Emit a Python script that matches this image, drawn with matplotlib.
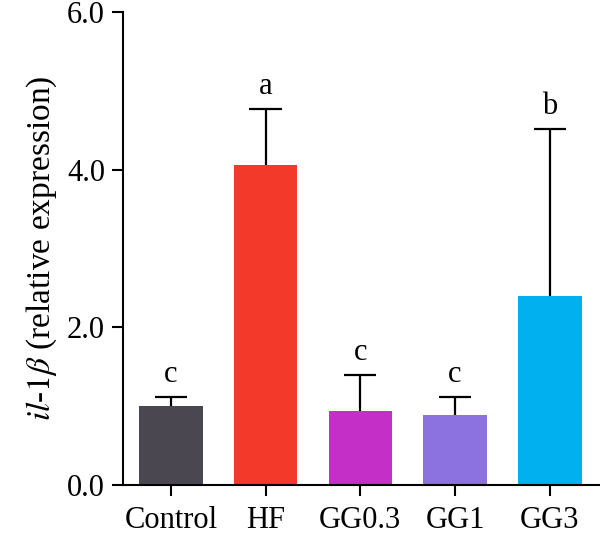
import matplotlib
matplotlib.use("Agg")
import matplotlib.pyplot as plt

# data
groups = ["Control", "HF", "GG0.3", "GG1", "GG3"]
means = [1.00, 4.06, 0.94, 0.89, 2.40]
upper = [0.12, 0.71, 0.46, 0.23, 2.12]
letters = ["c", "a", "c", "c", "b"]
colors = ["#4a4751", "#f2392a", "#c42fc8", "#8b72e0", "#00b0ef"]

plt.rcParams["font.family"] = ["Liberation Serif", "DejaVu Serif"]
plt.rcParams["mathtext.fontset"] = "stix"

fig = plt.figure(figsize=(6.0, 5.35), dpi=100)
ax = fig.add_axes([0.205, 0.0935, 0.795, 0.8841])

x = list(range(len(groups)))
ax.bar(x, means, width=0.67, color=colors, zorder=2)

# upper-only error bars
tops = [m + u for m, u in zip(means, upper)]
ax.vlines(x, means, tops, color="black", linewidth=1.6, zorder=1)
ax.hlines(tops, [i - 0.17 for i in x], [i + 0.17 for i in x],
          color="black", linewidth=1.6, zorder=1)

for i in x:
    ax.text(i, tops[i] + 0.1, letters[i], ha="center", va="bottom", fontsize=22)

ax.set_xlim(-0.505, 4.53)
ax.set_ylim(0, 6.0)
ax.set_yticks([0, 2, 4, 6])
ax.set_yticklabels(["0.0", "2.0", "4.0", "6.0"])
ax.set_xticks(x)
ax.set_xticklabels(groups)
ax.tick_params(axis="both", labelsize=22, width=1.5, length=8, direction="out")
ax.tick_params(axis="x", pad=7)
ax.tick_params(axis="y", pad=5)

for s in ["top", "right"]:
    ax.spines[s].set_visible(False)
for s in ["left", "bottom"]:
    ax.spines[s].set_linewidth(1.5)

ax.set_ylabel(r"$\it{il}$-$\it{1\beta}$ (relative expression)", fontsize=24, labelpad=6)

fig.savefig("out.png", dpi=100)
